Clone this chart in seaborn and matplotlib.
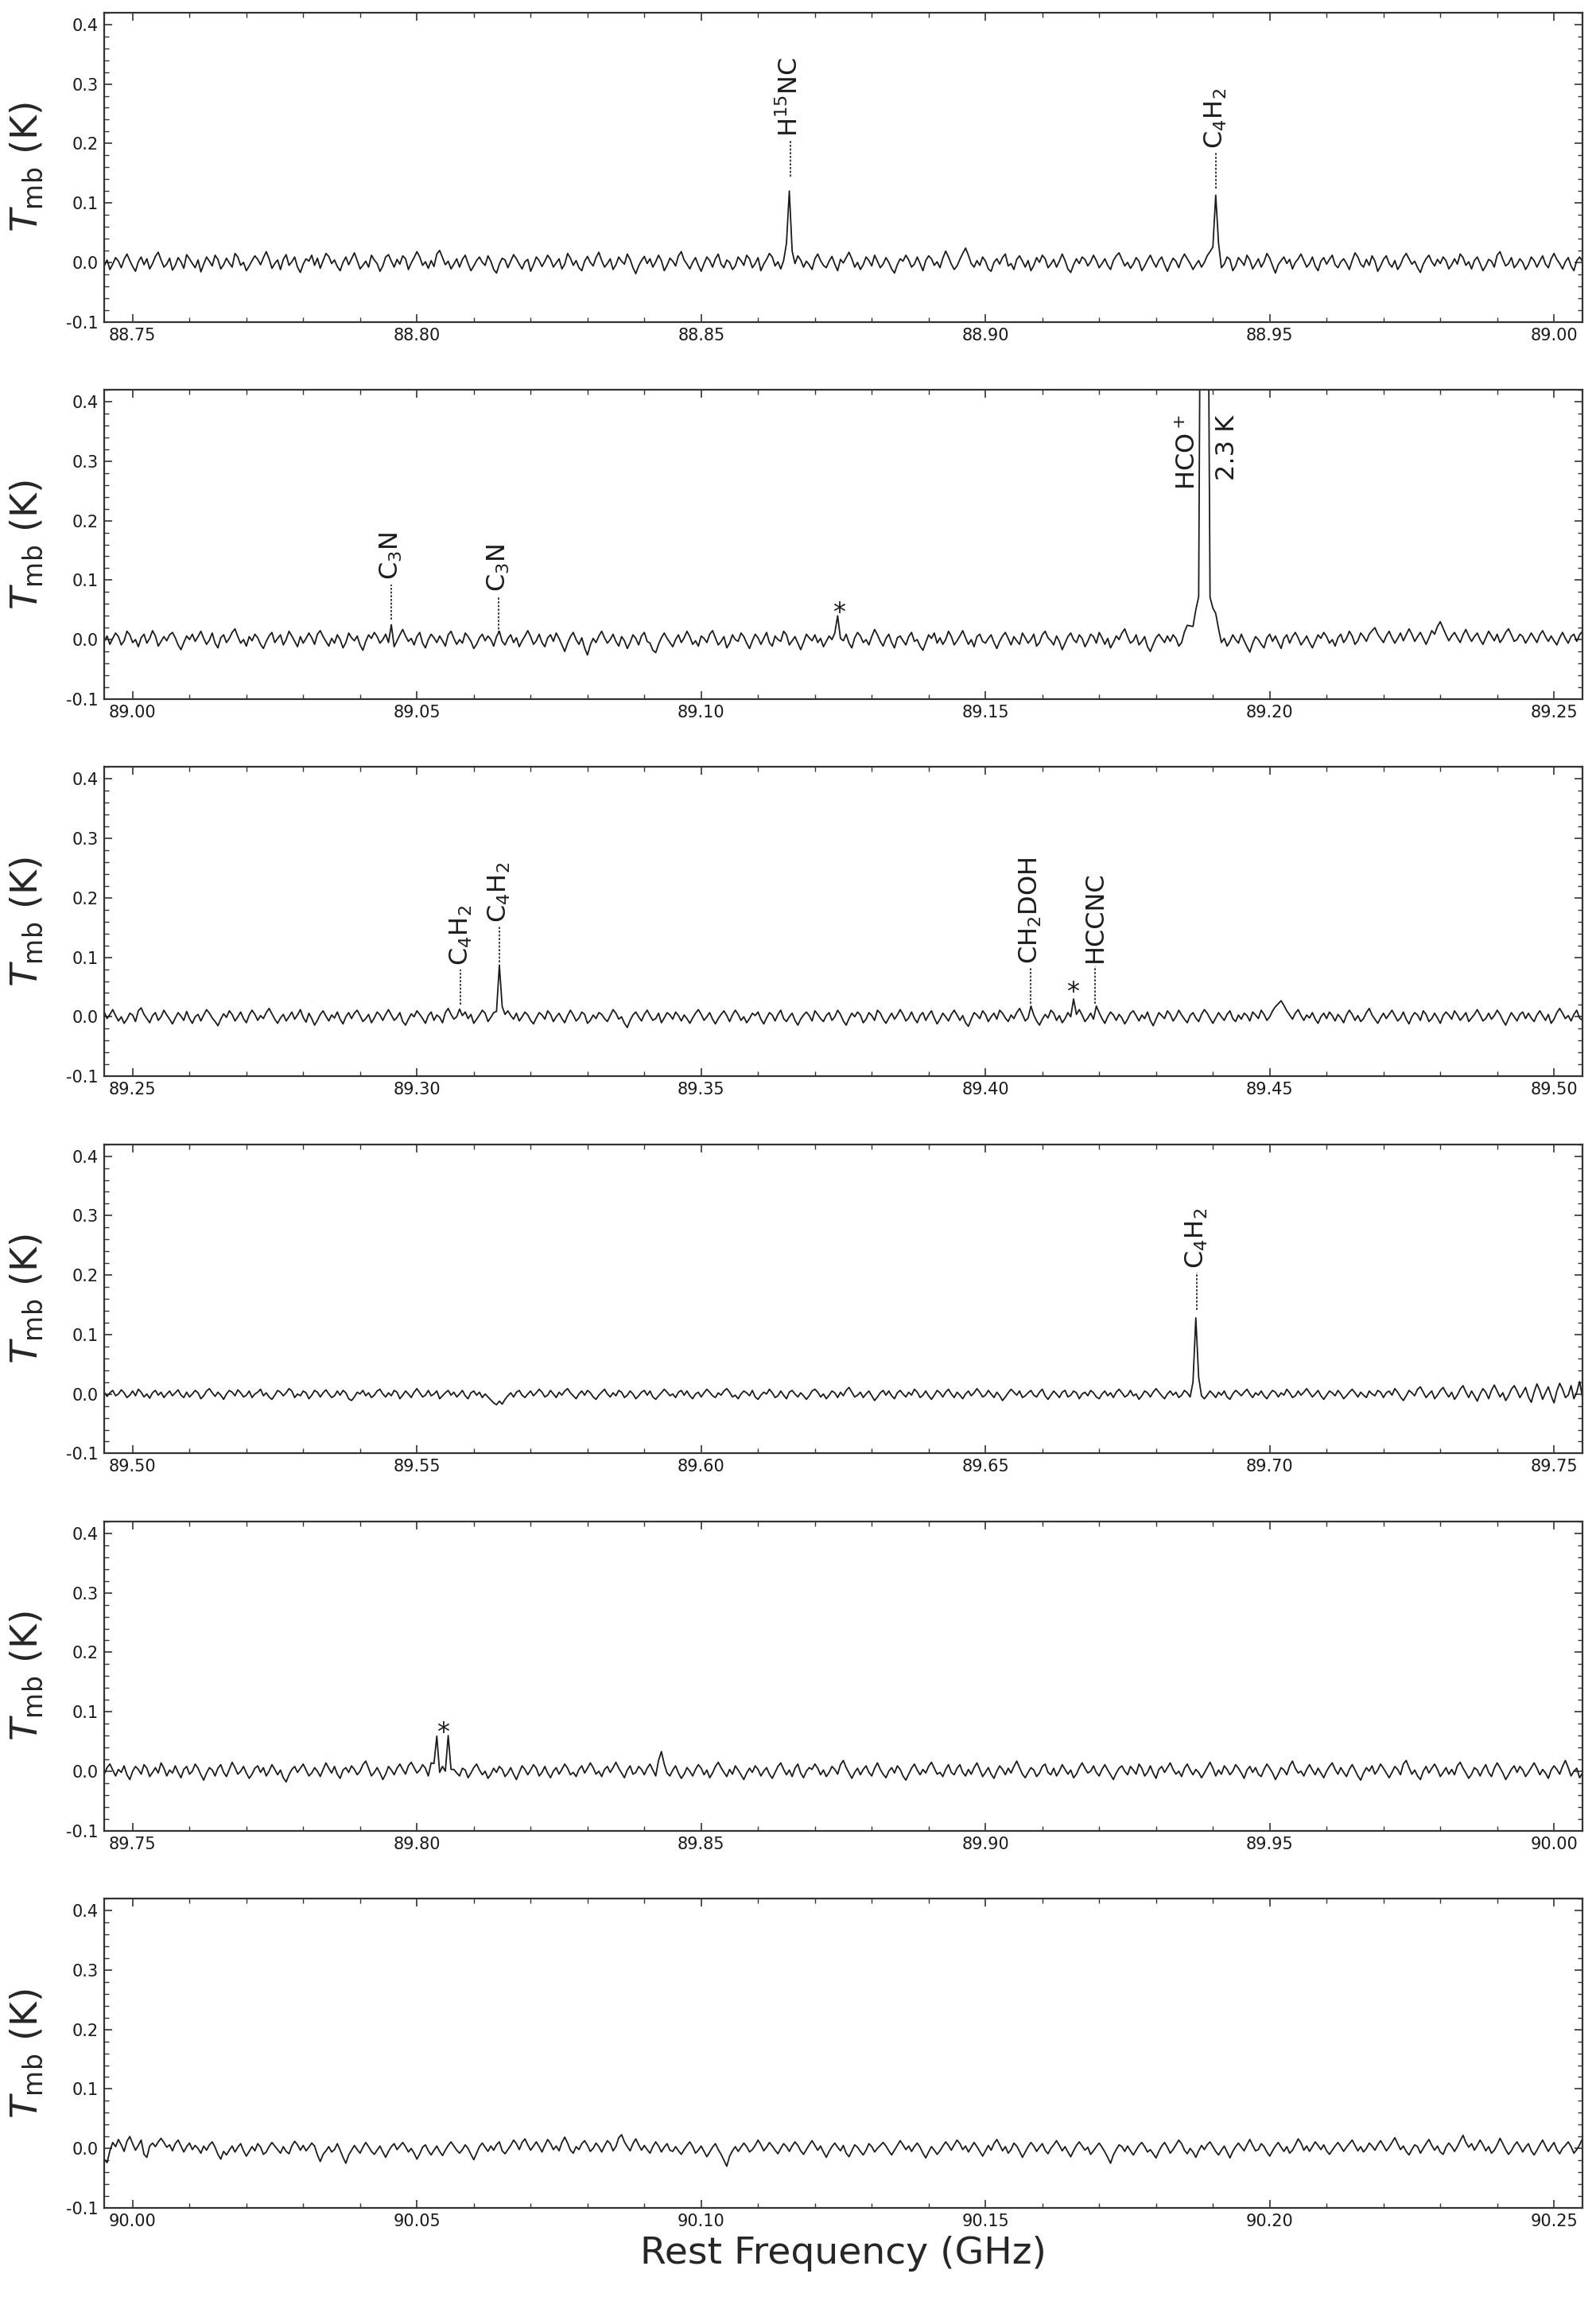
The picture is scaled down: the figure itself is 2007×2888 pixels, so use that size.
import numpy as np
import pandas as pd
import matplotlib
matplotlib.use("Agg")
import matplotlib.pyplot as plt
from matplotlib.ticker import MultipleLocator, FormatStrFormatter
import seaborn as sns

# ---------------- data ----------------
PANEL_START = [88.745, 88.995, 89.245, 89.495, 89.745, 89.995]   # GHz, left edge of each panel
PANEL_WIDTH = 0.26
CHANNEL = 0.0005  # GHz

# baseline (noise) spectra, mK, one channel per value starting at PANEL_START
P1 = """
-6 4 -12 -3 8 2 -9 5 14 3 -7 -15 1 9 -4 6 -11 -2 10 17 4 -8 -3 7 -13
-5 8 1 -10 13 6 -2 -9 4 -16 -3 9 2 -6 12 5 -11 -4 7 -1 -8 15 9 -5 0
-14 -6 3 11 5 -4 8 18 6 -10 -2 4 -12 5 13 -5 1 9 -8 -17 -3 6 2 12 -5
7 -10 3 15 10 -2 4 -7 -14 0 9 -4 6 16 3 -11 -5 2 -8 12 4 -2 -15 -6 9
13 2 -8 5 -3 11 6 -12 -1 8 18 9 -5 1 -10 3 -7 14 20 8 -4 2 -11 -3 6
-8 5 12 -2 -14 -6 3 9 0 -5 11 2 -12 -18 -3 7 4 -9 2 13 6 -3 -11 1 5
-15 -4 9 3 -7 2 12 5 -8 -1 6 -11 -3 15 7 -5 3 -9 -14 2 10 0 -6 8 17
3 -8 -2 6 -12 -4 9 2 -3 14 5 -9 -19 -6 3 10 -2 6 -8 1 12 3 -14 -5 7
2 -6 11 18 4 -3 -11 0 8 -5 -15 -2 9 3 -8 6 14 -3 -9 4 0 -12 -6 9 3
-5 12 6 -9 -2 8 -14 -3 5 15 9 -6 1 -11 3 7 -5 -16 -2 11 4 -8 2 -4 -12
6 14 3 -5 -9 2 10 -3 -14 5 -1 8 17 6 -8 0 -12 -4 9 3 -6 12 2 -9 -3
8 0 -11 -18 -4 6 2 12 4 -8 -3 9 -2 -14 3 11 6 -5 1 -9 7 19 9 -3 -12
-6 5 15 24 12 -2 -8 3 -5 9 2 -11 -15 0 6 -3 8 14 -6 -2 -12 5 11 2 -8
3 -14 -5 8 0 12 6 -9 -3 5 -8 2 14 3 -11 -17 -4 6 -2 9 5 -6 1 12 3
-9 -2 6 -5 -12 3 11 16 5 -6 0 -10 -3 8 2 -14 -6 4 12 1 -8 3 9 -4 -15
-3 7 2 -9 5 14 6 -2 -12 -4 3 -8 0 11 18 6 -5 2 -9 -3 9 5 -14 -6 8
2 -5 12 4 -11 -3 6 -8 1 15 7 -6 -18 -4 3 9 -2 5 -11 0 6 14 3 -8 -2
9 -6 -14 2 8 -3 5 12 -4 -9 1 6 -2 -12 3 16 9 -3 -8 5 -5 11 2 -15 -6
5 11 -2 -8 3 -12 -4 8 15 6 -3 2 -9 -17 -3 6 12 1 -6 5 -2 9 3 -11 -4
6 -3 14 8 -5 1 -11 3 9 -2 -14 -6 5 2 -8 12 18 5 -6 -2 8 -9 -3 6 0
-12 -4 9 3 -8 2 11 -3 -9 6 15 5 -2 -11 1 8 -6 -14 3 9 2 -5 12 5 -8
"""
P2 = """
-3 6 -8 2 11 5 -9 -2 14 8 -5 0 -12 3 9 -6 2 15 6 -11 -3 5 -2 8 12
3 -9 -17 -5 6 0 9 -3 5 14 2 -8 -1 11 -6 -14 3 8 -5 2 12 18 5 -6 0
-11 5 -2 9 3 -8 -15 -3 6 12 -5 2 8 -9 0 14 6 -3 -12 5 -6 2 11 3 -8
9 15 5 -3 -11 2 -6 8 0 -14 -5 11 3 -2 6 -9 -18 -3 8 2 12 5 -6 0 9
-5 3 -12 -2 8 17 6 -3 2 -9 5 12 -6 -14 0 9 3 -5 6 -2 -11 8 14 2 -8
0 -6 11 5 -3 -15 -8 3 9 -2 6 0 -11 5 14 -3 -9 2 8 -5 3 -12 -2 6 15
5 -8 -2 9 -5 -12 3 8 -3 11 2 -9 -20 -6 5 12 0 -8 3 -14 -26 -9 2 -5 6
14 3 -6 0 9 -3 -11 5 -2 -15 -5 8 2 -9 6 12 -3 -6 -18 -22 -8 3 11 2 -5
-12 0 8 -5 3 14 5 -8 -2 -11 6 2 -5 9 15 3 -9 -3 5 -14 -6 8 0 -3 11
5 -6 -15 -2 9 3 -8 2 12 -5 -11 6 0 -3 14 8 -9 -2 5 -6 -17 -5 9 3 -2
8 -5 2 -12 -3 6 0 11 5 -8 -2 9 -6 -14 3 12 6 -5 0 -9 5 17 8 -3 -11
2 9 -5 -14 3 6 -2 -9 5 12 -3 0 -11 -18 -5 8 2 11 -6 3 -8 0 14 5 -9
-2 6 15 3 -8 0 -12 5 9 -3 -6 2 8 -5 -15 -3 6 12 2 -9 5 -2 -8 11 3
-6 0 9 -11 -5 8 14 3 -2 -9 6 -3 -17 -6 5 11 0 -5 8 2 -12 -3 9 5 -6
12 3 -8 2 -14 -5 6 0 11 18 5 -6 -2 8 -9 -3 5 -12 -20 -8 3 9 2 -5 6
-3 8 2 -11 -5 3 9 -2 -8 5 12 6 -6 0 -9 3 14 6 -5 2 -11 -3 8 0 -6
9 -2 -12 -21 -6 5 0 -8 -14 3 9 -3 6 -5 -15 2 8 -6 5 12 3 -9 -2 6 -5
-14 -3 8 2 12 5 -6 0 -11 3 9 -5 2 14 6 -8 -2 11 5 -3 9 15 20 9 2
-5 6 14 3 -6 2 11 -2 8 18 9 -3 5 12 2 -8 3 15 9 22 30 19 8 -2 6
12 3 -5 8 17 6 -3 5 11 0 -8 3 14 6 -2 9 -5 2 12 18 8 -3 0 9 5
-6 2 11 3 -5 8 15 5 -3 6 -2 -9 3 12 2 -6 5 9 -3 8 14 3 -8 0 6
"""
P3 = """
8 -3 4 12 2 -7 0 -11 -4 6 3 -8 10 15 4 -3 -10 2 7 -6 0 11 3 -4 -12
-2 7 1 -6 9 -3 -11 0 4 -7 3 12 6 -2 -8 -15 -4 5 -1 10 4 -7 0 8 -3
-10 3 11 4 -6 2 -3 7 14 5 -4 -11 -2 4 -7 0 8 -4 3 12 -1 -9 6 -3 -14
-6 4 10 1 -7 3 -2 8 -4 -12 0 7 -3 6 11 2 -8 -3 4 -10 -2 8 3 -6 4
12 3 -6 -1 7 -8 -14 -4 5 0 10 4 -3 -11 2 8 -6 3 -1 -10 7 14 4 -4 0
-7 2 8 -3 4 -11 -4 3 11 6 -8 -1 7 -6 2 -3 4 10 2 -4 6 -7 0 8 3
-6 -12 -2 7 3 -4 10 4 -8 0 6 -3 -10 2 11 3 -7 -2 8 4 -11 -6 3 -3 7
4 -3 -8 2 12 6 -4 0 -11 -18 -6 3 8 0 -7 4 11 2 -6 -3 6 -10 -2 7 3
-4 8 2 -7 3 -3 -11 -2 6 12 4 -6 0 7 -4 -12 -3 4 10 2 -8 3 11 4 -6
0 -10 -3 6 2 8 -4 -12 -2 7 3 -7 4 11 -3 -8 0 6 -6 -14 -4 3 8 2 -7
10 4 -3 -8 2 7 -6 0 11 4 -7 -14 -3 6 0 8 3 -10 -4 7 2 -6 11 6 -4
-11 -2 6 -4 3 12 4 -7 -2 8 -3 -10 2 7 -6 3 10 -2 -12 -4 6 0 -7 4 11
3 -6 2 -10 -16 -4 7 3 -3 10 4 -8 0 6 -4 11 6 -2 -8 3 -3 7 14 4 -7
-2 8 3 -7 -14 -4 4 -2 11 6 -6 2 -10 -3 7 0 -6 4 12 3 -8 -2 6 -4 2
7 -3 -11 0 8 3 -6 4 -2 -12 -4 6 10 2 -7 3 -3 8 -6 -15 -4 7 2 -3 10
4 -7 0 11 3 -4 -10 2 7 -2 -8 4 12 6 -3 -11 -2 7 0 -6 4 10 -3 -8 3
-4 6 2 -7 8 3 -3 11 4 -6 0 10 17 22 27 19 10 3 -4 6 12 2 -6 3 -2
7 -4 -11 0 6 -3 8 2 -7 4 -2 -10 3 11 4 -6 2 -8 -3 7 14 3 -4 -11 -2
6 -3 4 11 2 -7 -2 8 -4 -12 0 7 3 -6 10 4 -8 -3 6 -2 -11 2 8 3 -4
10 3 -6 0 7 -8 -2 4 12 3 -7 -3 6 -4 2 11 4 -6 -14 -3 7 0 -7 4 8
-3 6 -2 -8 3 10 2 -6 4 -11 -4 7 14 6 -3 2 -7 4 11 -2 -6 3 8 -4 0
"""
P4 = """
3 -4 2 6 -3 0 7 2 -6 -2 5 -3 8 3 -5 0 -7 2 6 -2 3 -6 0 5 -3
2 7 -2 -6 3 -5 0 6 2 -8 -3 5 9 2 -4 3 -2 -9 0 6 3 -3 7 2 -5
-2 5 -6 0 3 8 -3 2 -5 -9 -2 6 3 -3 2 9 5 -6 0 -3 5 2 -8 -2 6
3 -5 2 7 0 -6 -3 5 -2 6 2 -8 -11 -5 3 0 6 -3 2 -6 -2 5 8 0 -5
2 -3 6 3 -8 -2 5 0 -6 3 9 2 -5 -2 6 -3 0 5 -8 -3 2 6 -2 3 -5
0 6 -3 -8 2 5 -2 3 -6 0 -5 -10 -15 -18 -12 -17 -9 -3 2 -5 3 6 -2 -6 0
5 -3 2 8 3 -5 -2 6 0 -6 3 -2 5 9 2 -3 -8 0 5 -2 6 2 -5 -9 -2
3 8 0 -5 2 -3 6 3 -6 -2 5 0 -8 -3 3 6 -2 5 -5 -9 -3 2 8 3 -3
0 -6 3 6 -2 5 -3 -8 0 3 -5 2 8 3 -3 -6 2 -2 5 9 3 -5 -2 -8 0
5 2 -3 6 -5 -9 -2 3 0 8 2 -6 -3 5 -2 -8 3 6 0 -5 2 -3 -9 -3 5
8 3 -5 0 -8 -2 5 2 -6 3 -3 6 11 3 -5 -2 3 -6 0 5 -3 -11 -5 2 6
-2 5 -3 -8 2 6 0 -5 3 -2 8 3 -6 -2 5 -3 -9 -2 6 2 -5 3 8 0 -6
3 -2 -8 0 5 -3 2 9 3 -5 -2 6 0 -6 3 -3 -11 -5 2 8 3 -2 5 -6 -3
2 6 -2 -5 3 8 -3 -9 -2 5 0 -6 3 6 -5 -2 5 2 -8 0 3 -3 6 2 -5
-8 0 5 -3 2 -6 3 8 2 -5 -2 6 -3 0 -9 -3 5 2 -5 3 9 3 -3 -8 0
5 -2 3 -6 -2 6 2 -5 0 8 3 -3 -8 -2 5 0 -6 3 -2 5 -5 -9 0 6 2
-3 3 8 0 -6 2 -2 5 -3 -8 0 6 3 -5 2 -2 8 2 -6 -3 5 -2 3 9 2
-5 0 6 -3 -9 -2 5 2 -3 6 0 -8 -3 3 8 2 -5 3 -2 -6 5 0 -3 6 3
-6 2 5 -2 9 3 -5 -11 -3 6 2 -3 8 12 3 -6 0 5 -8 -2 6 11 2 -5 3
-9 -2 8 14 3 -6 5 -3 -12 0 9 3 -8 6 15 5 -5 2 -11 -3 8 14 5 -6 2
11 -5 -14 3 17 6 -9 2 12 -3 -15 5 18 8 -6 -2 14 -8 3 21 -5 -12 9 15 3
"""
P5 = """
-5 6 12 2 -8 3 -2 9 -6 -14 0 8 3 -5 11 5 -9 -2 6 -3 14 5 -8 2 -3
9 -2 -11 3 8 -5 0 12 5 -6 -15 -3 6 2 -8 5 11 -2 -9 3 15 6 -5 0 8
-3 -12 -5 5 9 -2 6 -8 0 11 3 -6 2 -11 -18 -6 3 8 -2 5 12 2 -8 -3 6
0 -9 3 14 5 -3 8 -5 -12 2 6 -2 9 3 -6 0 11 17 5 -8 -2 6 -3 -14 -5
8 2 -6 5 12 3 -5 9 15 6 -3 2 11 5 -8 14 3 -6 -2 8 0 -5 -9 3 -3
-8 5 2 -11 -3 6 12 2 -6 0 -12 -5 5 -2 8 3 -9 -3 6 -5 -14 -2 9 3 -6
2 11 5 -8 -2 8 -3 -11 0 6 -5 3 12 5 -6 -2 -9 3 9 -3 5 14 6 -5 0
-9 3 8 -2 6 15 5 -3 -11 2 9 -5 -2 8 3 -6 5 12 2 -8 18 33 12 -3 -8
2 9 -3 -12 -5 6 0 -8 3 11 5 -6 2 -11 -3 8 15 6 -2 -9 3 -5 9 2 -6
-14 -3 5 -2 9 3 -8 0 6 -5 -12 -2 8 14 3 -6 2 -9 5 12 -3 -11 0 6 3
12 5 -6 2 -9 -2 8 3 -5 11 18 6 -3 -12 -2 5 -6 3 9 -2 -8 5 14 3 -5
-11 0 6 -3 9 3 -8 -15 -5 5 12 2 -6 3 -3 8 15 5 -5 -2 -9 3 11 -2 -6
5 11 -2 -8 3 -5 6 14 3 -9 -2 6 -5 -12 0 9 3 -6 5 -3 8 17 6 -5 -11
-2 6 2 -9 -3 8 12 -2 -6 5 -8 0 11 3 -5 2 -11 -5 6 14 5 -3 0 9 -2
-8 3 11 2 -6 -14 -3 5 9 0 -6 8 2 -5 12 5 -8 -2 9 -3 -12 3 8 -2 6
14 3 -5 0 -9 5 12 2 -6 3 -2 -11 -3 6 15 5 -8 2 -5 9 3 -6 0 11 5
-3 -12 2 8 -2 6 -5 -9 3 12 5 -3 -14 -5 6 2 -6 9 17 5 -3 0 -8 3 11
2 -6 5 -3 -11 0 8 14 3 -5 6 -2 -9 3 11 2 -8 -15 -3 6 0 9 -5 2 12
5 -3 -11 -2 8 3 -6 12 18 6 -5 2 -8 -14 0 8 -3 5 12 3 -9 -2 6 -5 3
-6 9 15 5 -3 -12 -5 6 2 -8 3 11 -2 -9 5 14 6 -3 -14 -6 3 9 -2 8 2
-9 -2 6 14 5 -6 3 -3 -12 2 9 3 -5 8 18 6 -8 0 5 -11 -3 9 2 -6 12
"""
P6 = """
-18 -24 -4 10 3 15 6 -5 12 20 8 -3 5 14 -10 -15 4 9 3 11 17 10 2 6 -4
8 14 4 -6 3 9 -2 5 0 -8 4 -3 6 11 2 -10 -18 -5 -11 -3 4 -6 2 8 -4
-13 -5 3 -4 8 2 -10 -6 3 10 4 -2 -8 3 -5 -9 4 12 6 -3 5 -4 2 9 4
-11 -22 -10 -4 3 -6 -2 8 -3 -15 -25 -11 -3 5 -2 -8 2 10 3 -5 -10 -3 4 -6 -15
-5 3 8 -2 4 10 3 -6 0 -8 -18 -9 2 6 -4 -11 -3 4 -5 -12 -3 5 11 4 -3
-8 -2 6 0 -10 -19 -8 3 9 2 -5 4 -3 6 11 -4 -9 -2 5 14 8 -2 10 16 6
-3 4 11 3 -6 5 15 8 -2 4 -4 10 19 9 -3 -8 3 -2 8 13 5 -5 0 9 3
-6 4 13 8 -4 3 18 23 11 3 -4 8 16 6 -3 5 -2 -8 3 11 4 -6 2 8 -3
-5 3 -4 -10 -2 5 11 3 -8 -3 4 -5 -14 -6 2 8 -2 -10 -20 -30 -13 -4 3 -5 2
9 3 -6 -2 5 14 6 -4 2 10 4 -3 -9 0 8 3 -5 4 11 5 -4 -10 -2 6 13
5 -3 4 -6 -15 -5 3 9 2 -4 5 -8 -14 -4 6 2 -5 -11 -3 8 3 -6 0 5 10
4 -4 -11 -3 5 13 6 -2 4 -5 3 9 2 -8 -16 -6 3 -3 -10 -4 4 11 5 -3 6
14 8 -2 4 -6 2 10 3 -5 -13 -4 5 -3 8 15 6 -4 3 -8 -2 9 4 -5 -15 -6
3 10 4 -5 2 8 -3 -9 0 6 13 5 -4 3 -6 -14 -4 5 11 4 -3 2 -10 -4 3
9 2 -6 -15 -25 -11 -2 6 3 -5 4 -4 -11 -3 5 10 3 -6 -2 -9 -16 -5 4 10 2
-8 -2 6 14 8 -3 -9 0 -6 -15 -4 5 -2 6 11 3 -5 -11 -3 4 -6 -16 -5 3 9
2 -4 6 15 5 -4 -2 8 3 -6 -13 -4 4 10 2 -5 3 -8 -3 6 16 9 -3 4 -5
3 11 5 -2 6 -4 -10 -3 4 10 3 -5 2 8 14 5 -4 3 -6 0 9 4 -3 6 13
5 -4 2 10 18 8 -2 4 -5 -11 -2 6 3 -8 0 8 15 5 -3 4 -6 -10 2 9 3
-5 3 13 22 10 2 8 -3 5 14 6 -4 3 -8 -3 6 17 8 -2 -10 -4 5 11 3 -6
2 8 -4 -11 -3 6 14 4 -5 3 10 -2 -9 0 5 11 3 -8 -2 6 16 10 2 -4 5
"""
BASELINES_MK = [P1, P2, P3, P4, P5, P6]

# emission features added on top of the baseline: (panel, frequency GHz, Tmb K)
LINE_PANEL = [0, 0, 0, 0, 0, 0,
              1, 1, 1,
              1, 1, 1, 1, 1, 1, 1, 1, 1, 1, 1, 1, 1,
              2, 2, 2, 2, 2, 2, 2,
              3, 3, 3,
              4, 4, 4, 4]
LINE_FREQ = [88.8650, 88.8655, 88.8660, 88.9400, 88.9405, 88.9410,
             89.0455, 89.1240, 89.1245,
             89.1850, 89.1855, 89.1860, 89.1865, 89.1870, 89.1875, 89.1880,
             89.1885, 89.1890, 89.1895, 89.1900, 89.1905, 89.1910,
             89.3075, 89.3140, 89.3145, 89.3150, 89.4080, 89.4155, 89.4195,
             89.6865, 89.6870, 89.6875,
             89.8030, 89.8035, 89.8055, 89.8060]
LINE_TMB = [0.025, 0.125, 0.035, 0.02, 0.118, 0.03,
            0.022, 0.035, 0.01,
            0.01, 0.015, 0.025, 0.03, 0.045, 0.06, 1.0,
            2.3, 0.9, 0.08, 0.05, 0.03, 0.012,
            0.02, 0.015, 0.085, 0.02, 0.01, 0.036, 0.016,
            0.02, 0.12, 0.025,
            0.01, 0.065, 0.065, 0.012]

# line identifications: dotted marker from Y0 to Y1, label above
ID_PANEL = [0, 0, 1, 1, 2, 2, 2, 2, 3]
ID_FREQ = [88.8657, 88.9405, 89.0455, 89.0643, 89.3077, 89.3145, 89.4079, 89.4193, 89.6872]
ID_TEXT = [r"H$^{15}$NC", r"C$_4$H$_2$", r"C$_3$N", r"C$_3$N", r"C$_4$H$_2$", r"C$_4$H$_2$",
           r"CH$_2$DOH", "HCCNC", r"C$_4$H$_2$"]
ID_Y0 = [0.144, 0.124, 0.033, 0.011, 0.020, 0.091, 0.022, 0.022, 0.142]
ID_Y1 = [0.204, 0.184, 0.093, 0.073, 0.079, 0.152, 0.082, 0.085, 0.204]

STAR_PANEL = [1, 2, 4]
STAR_FREQ = [89.1242, 89.4154, 89.8046]
STAR_Y = [0.033, 0.030, 0.053]

HCO_TEXT = [r"HCO$^+$", "2.3 K"]
HCO_FREQ = [89.1857, 89.1925]
HCO_Y = [0.378, 0.378]

YTICKS = [-0.1, 0.0, 0.1, 0.2, 0.3, 0.4]

# ---------------- plot ----------------
sns.set_theme(style="white")
plt.rcParams["font.family"] = ["DejaVu Sans"]
plt.rcParams["mathtext.fontset"] = "dejavusans"

fig, axes = plt.subplots(6, 1, figsize=(20.07, 28.88), dpi=100)
fig.subplots_adjust(left=0.0653, right=0.9915, top=0.9945, bottom=0.0388, hspace=0.22)

INK = "#1c1c1c"
SPINE = "#333333"

for k, ax in enumerate(axes):
    start = PANEL_START[k]
    vals = np.array(BASELINES_MK[k].split(), dtype=float) / 1000.0
    freq = start + CHANNEL * np.arange(len(vals))
    for p, f, t in zip(LINE_PANEL, LINE_FREQ, LINE_TMB):
        if p == k:
            vals[int(round((f - start) / CHANNEL))] += t
    df = pd.DataFrame({"freq": freq, "tmb": vals})
    sns.lineplot(data=df, x="freq", y="tmb", ax=ax, color=INK, lw=1.3,
                 estimator=None, sort=False, errorbar=None)

    ax.set_xlim(start, start + PANEL_WIDTH)
    ax.set_ylim(-0.1, 0.42)
    ax.set_yticks(YTICKS)
    ax.xaxis.set_major_locator(MultipleLocator(0.05))
    ax.xaxis.set_minor_locator(MultipleLocator(0.01))
    ax.yaxis.set_minor_locator(MultipleLocator(0.02))
    ax.xaxis.set_major_formatter(FormatStrFormatter("%.2f"))
    ax.yaxis.set_major_formatter(FormatStrFormatter("%.1f"))
    ax.tick_params(which="both", direction="in", top=True, right=True,
                   bottom=True, left=True, colors=SPINE, labelcolor="#1a1a1a")
    ax.tick_params(which="major", length=7, width=1.2, labelsize=15, pad=5)
    ax.tick_params(which="minor", length=4, width=1.0)
    for s in ax.spines.values():
        s.set_color(SPINE)
        s.set_linewidth(1.6)
        s.set_visible(True)

    ax.set_ylabel(r"$T_{\rm mb}$ (K)", fontsize=34)
    ax.yaxis.set_label_coords(-0.040, 0.5)
    ax.set_xlabel("")

    for p, f, txt, y0, y1 in zip(ID_PANEL, ID_FREQ, ID_TEXT, ID_Y0, ID_Y1):
        if p == k:
            ax.plot([f, f], [y0, y1], color=INK, lw=1.2, linestyle=(0, (1.6, 1.2)))
            ax.text(f, y1 + 0.007, txt, rotation=90, ha="center", va="bottom",
                    fontsize=23, color=INK)
    for p, f, y in zip(STAR_PANEL, STAR_FREQ, STAR_Y):
        if p == k:
            ax.text(f, y, "*", ha="center", va="baseline", fontsize=23, color=INK)
    if k == 1:
        for txt, f, y in zip(HCO_TEXT, HCO_FREQ, HCO_Y):
            ax.text(f, y, txt, rotation=90, ha="center", va="top", fontsize=23, color=INK)

axes[-1].set_xlabel("Rest Frequency (GHz)", fontsize=34, labelpad=6)

fig.savefig("out.png", dpi=100)
